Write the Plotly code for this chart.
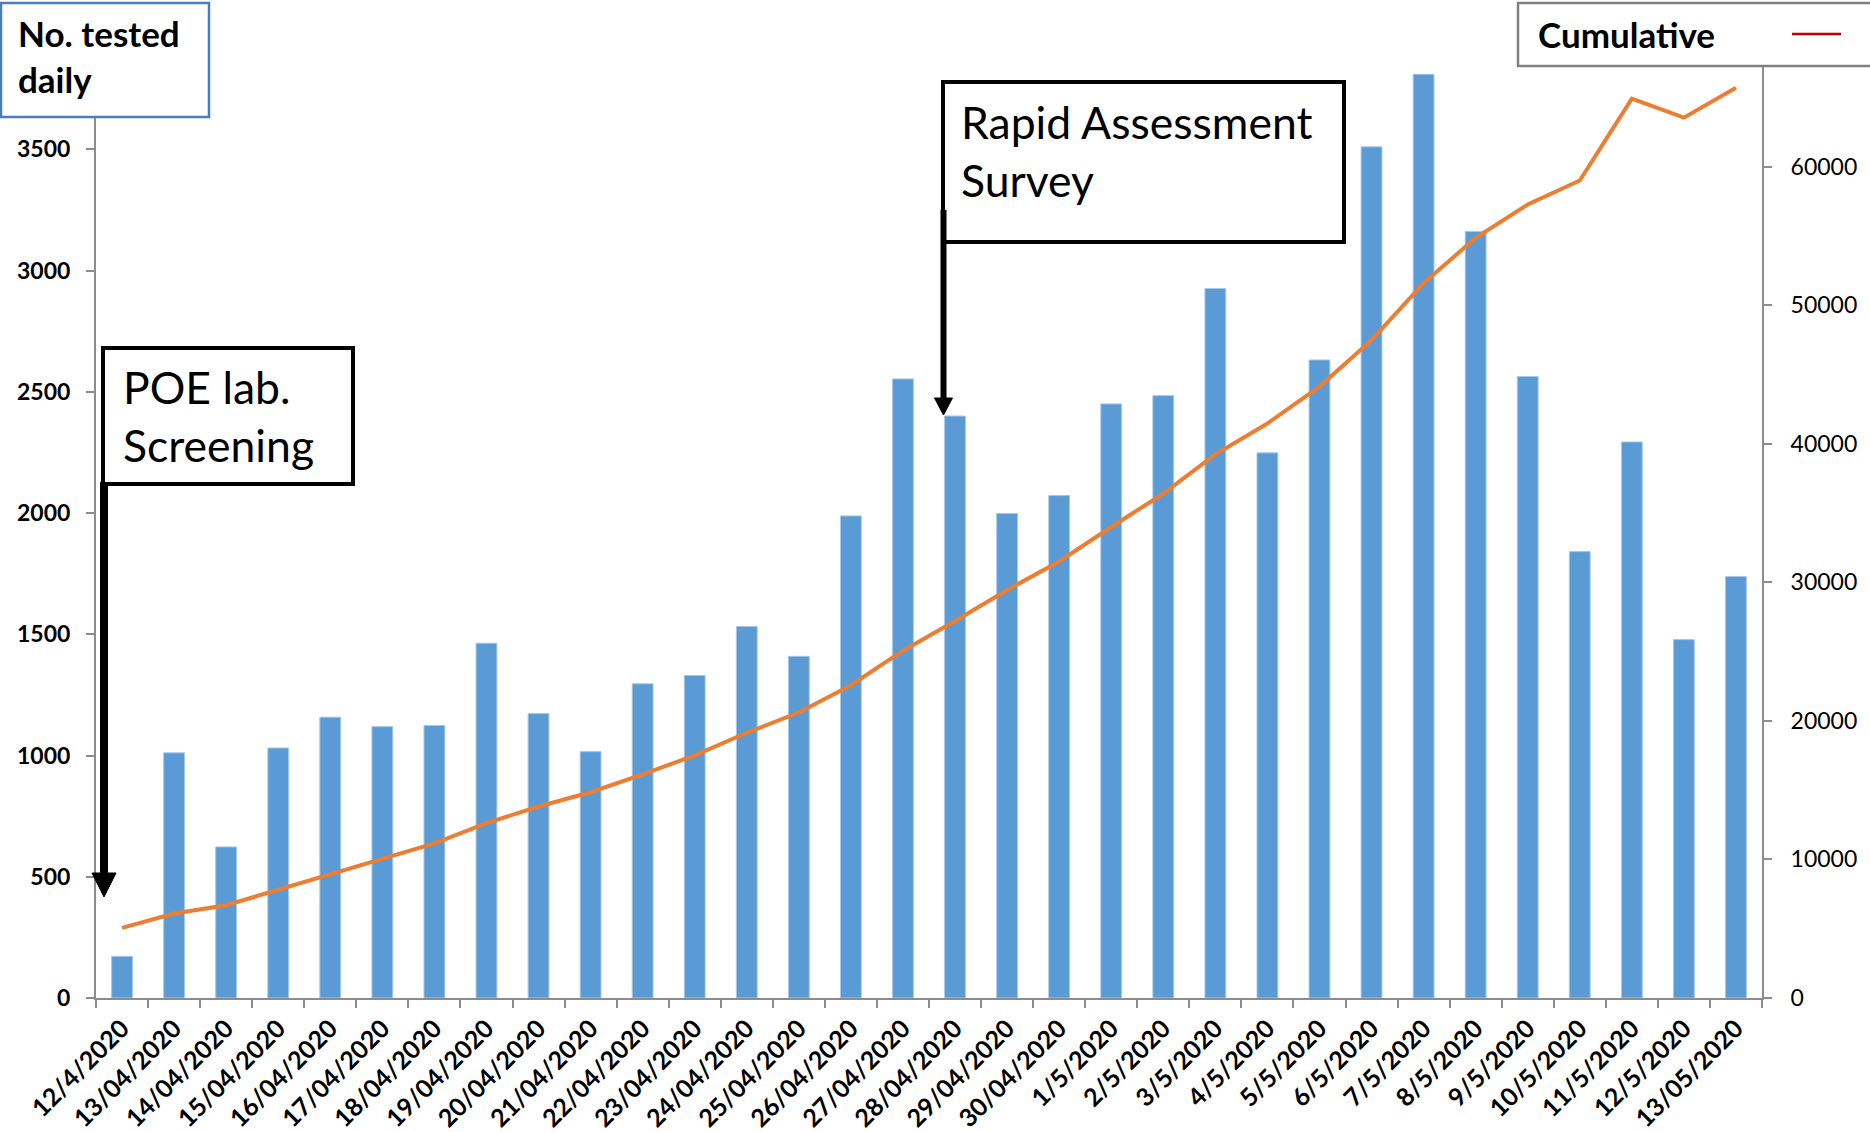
import plotly.graph_objects as go

# ---- data ----
dates = [
    "12/4/2020", "13/04/2020", "14/04/2020", "15/04/2020", "16/04/2020",
    "17/04/2020", "18/04/2020", "19/04/2020", "20/04/2020", "21/04/2020",
    "22/04/2020", "23/04/2020", "24/04/2020", "25/04/2020", "26/04/2020",
    "27/04/2020", "28/04/2020", "29/04/2020", "30/04/2020", "1/5/2020",
    "2/5/2020", "3/5/2020", "4/5/2020", "5/5/2020", "6/5/2020",
    "7/5/2020", "8/5/2020", "9/5/2020", "10/5/2020", "11/5/2020",
    "12/5/2020", "13/05/2020",
]
tested_daily = [
    172, 1011, 623, 1031, 1158, 1119, 1124, 1463, 1173, 1016,
    1296, 1330, 1532, 1409, 1988, 2553, 2400, 1998, 2072, 2450,
    2484, 2926, 2248, 2631, 3510, 3809, 3161, 2563, 1841, 2293,
    1478, 1738,
]
cumulative = [
    5065, 6095, 6696, 7811, 8927, 10043, 11159, 12618, 13820, 14850,
    16138, 17511, 19142, 20602, 22576, 25065, 27211, 29443, 31503, 33992,
    36396, 39229, 41461, 44122, 47470, 51590, 54852, 57265, 58994, 64900,
    63531, 65692,
]
left_ticks = [0, 500, 1000, 1500, 2000, 2500, 3000, 3500]
right_ticks = [0, 10000, 20000, 30000, 40000, 50000, 60000]

# ---- page geometry (pixels) ----
W, H = 1870, 1132
L, R, T, B = 96, 1762, 28, 998


def px_x(px):
    return (px - L) / (R - L)


def px_y(py):
    return (B - py) / (B - T)


AXIS_GREY = "#8c8c8c"
FONT = "Lato"

fig = go.Figure()
fig.add_trace(go.Bar(
    x=dates, y=tested_daily, name="No. tested daily",
    marker=dict(color="#5B9BD5", line=dict(color="#a7c7e7", width=1)),
    yaxis="y",
))
fig.add_trace(go.Scatter(
    x=dates, y=cumulative, name="Cumulative", mode="lines",
    line=dict(color="#ED7D31", width=4),
    yaxis="y2",
))

fig.update_layout(
    width=W, height=H,
    margin=dict(l=L, r=W - R, t=T, b=H - B),
    paper_bgcolor="white", plot_bgcolor="white",
    showlegend=False,
    bargap=0.6,
    font=dict(family=FONT, color="black"),
    xaxis=dict(
        type="category", tickangle=-45, tickson="boundaries",
        ticks="outside", ticklen=8, tickwidth=2, tickcolor=AXIS_GREY,
        showline=True, linecolor=AXIS_GREY, linewidth=2,
        showgrid=False, zeroline=False, ticklabelstandoff=4,
        automargin=False,
        tickfont=dict(family=FONT, size=25, weight="bold"),
    ),
    yaxis=dict(
        range=[0, 4000], tickvals=left_ticks,
        ticks="outside", ticklen=8, tickwidth=2, tickcolor=AXIS_GREY,
        showline=True, linecolor=AXIS_GREY, linewidth=2,
        showgrid=False, zeroline=False, ticklabelstandoff=11,
        automargin=False,
        tickfont=dict(family=FONT, size=23, weight="bold"),
    ),
    yaxis2=dict(
        range=[0, 70000], tickvals=right_ticks, tickformat="d",
        overlaying="y", side="right",
        ticks="outside", ticklen=8, tickwidth=2, tickcolor=AXIS_GREY,
        showline=True, linecolor=AXIS_GREY, linewidth=2,
        showgrid=False, zeroline=False, ticklabelstandoff=14,
        automargin=False,
        tickfont=dict(family=FONT, size=23),
    ),
)

shapes = []


def rect(x0, y0, x1, y1, color, width):
    shapes.append(dict(
        type="rect", xref="paper", yref="paper", layer="above",
        x0=px_x(x0), x1=px_x(x1), y0=px_y(y1), y1=px_y(y0),
        line=dict(color=color, width=width), fillcolor="white",
    ))


def down_arrow(x, y_start, y_base, y_tip, shaft, half_head):
    shapes.append(dict(
        type="line", xref="paper", yref="paper", layer="above",
        x0=px_x(x), x1=px_x(x), y0=px_y(y_start), y1=px_y(y_base + 2),
        line=dict(color="black", width=shaft),
    ))
    path = "M {} {} L {} {} L {} {} Z".format(
        px_x(x - half_head), px_y(y_base),
        px_x(x + half_head), px_y(y_base),
        px_x(x), px_y(y_tip),
    )
    shapes.append(dict(
        type="path", xref="paper", yref="paper", layer="above", path=path,
        line=dict(color="black", width=1), fillcolor="black",
    ))


# label boxes
rect(1, 3, 209, 117, "#4A7EBB", 2.5)
rect(1518, 3, 1885, 66, "#808080", 2.5)
rect(943, 82, 1344, 242, "black", 4)
rect(103, 348, 353, 484, "black", 4)

# legend sample for the cumulative series
shapes.append(dict(
    type="line", xref="paper", yref="paper", layer="above",
    x0=px_x(1792), x1=px_x(1841), y0=px_y(34), y1=px_y(34),
    line=dict(color="#C00000", width=2.5),
))

# event arrows
down_arrow(943.5, 210, 398, 415, 6, 9)
down_arrow(104, 482, 873, 897, 8, 12)

fig.update_layout(shapes=shapes)


def label(text, x, top, size, bold):
    fig.add_annotation(
        text=text, xref="paper", yref="paper",
        x=px_x(x), y=px_y(top), xanchor="left", yanchor="top",
        align="left", showarrow=False,
        font=dict(family=FONT, size=size, color="black",
                  weight="bold" if bold else "normal"),
    )


label("No. tested<br>daily", 16, 10, 35, True)
label("Cumulative", 1536, 11, 35, True)
label("Rapid Assessment<br>Survey", 959, 93, 44.5, False)
label("POE lab.<br>Screening", 121, 358, 44.5, False)

fig.write_html("out.html")
